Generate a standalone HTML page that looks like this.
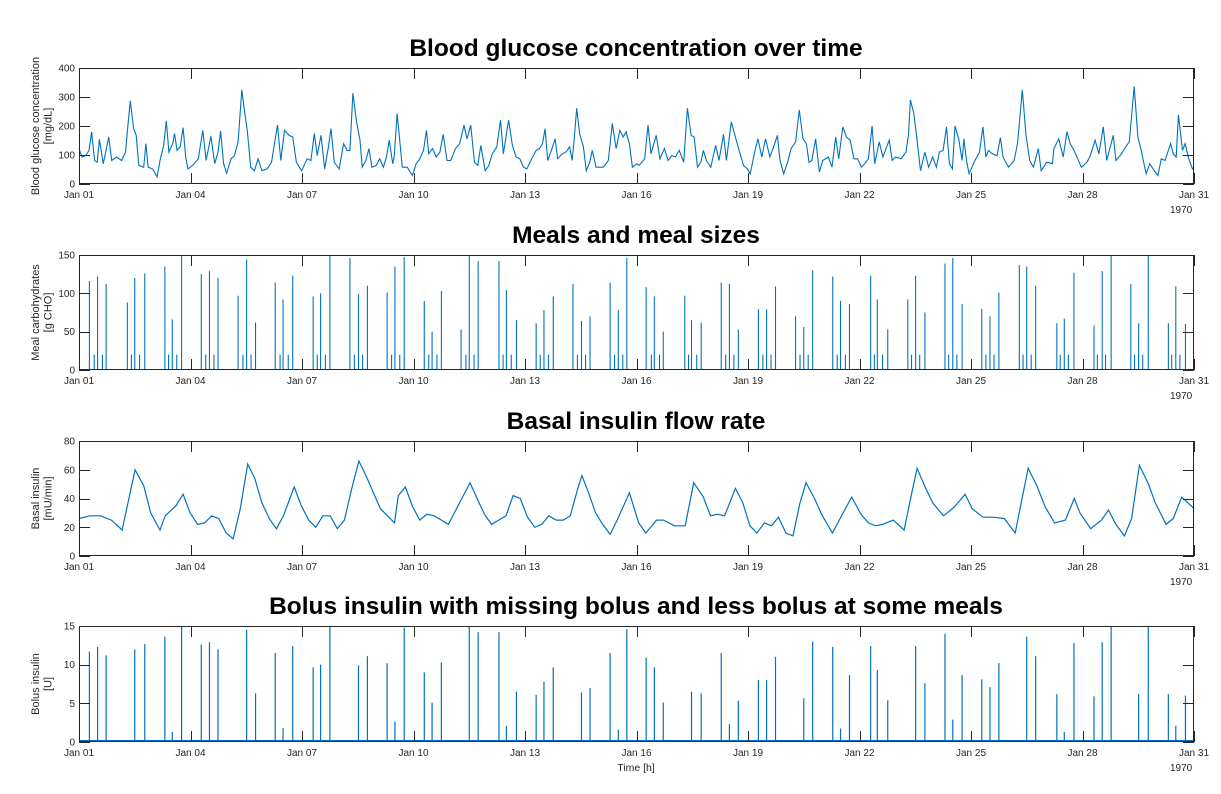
<!DOCTYPE html>
<html><head><meta charset="utf-8"><style>
html,body{margin:0;padding:0;background:#fff;}
svg{display:block;font-family:"Liberation Sans",Arial,sans-serif;}
</style></head><body>
<svg id="chart" width="1221" height="794" viewBox="0 0 1221 794" xmlns="http://www.w3.org/2000/svg"></svg>
<script>
const dayLabels=["Jan 01","Jan 04","Jan 07","Jan 10","Jan 13","Jan 16","Jan 19","Jan 22","Jan 25","Jan 28","Jan 31"];
const dayTicks=[0,3,6,9,12,15,18,21,24,27,30];
const gT=[0.00,0.08,0.18,0.27,0.34,0.42,0.49,0.55,0.65,0.71,0.80,0.88,1.01,1.15,1.25,1.32,1.38,1.47,1.54,1.61,1.74,1.80,1.86,1.98,2.10,2.18,2.28,2.35,2.42,2.52,2.57,2.64,2.72,2.80,2.87,2.93,3.06,3.21,3.33,3.42,3.55,3.65,3.74,3.81,3.89,3.97,4.09,4.18,4.28,4.38,4.45,4.53,4.62,4.72,4.82,4.92,5.06,5.18,5.26,5.34,5.43,5.53,5.65,5.75,5.85,5.99,6.14,6.24,6.33,6.41,6.51,6.61,6.71,6.78,6.87,7.00,7.12,7.21,7.29,7.37,7.46,7.56,7.62,7.72,7.80,7.88,8.00,8.09,8.19,8.27,8.35,8.44,8.48,8.56,8.63,8.70,8.83,8.97,9.07,9.17,9.27,9.35,9.41,9.51,9.61,9.71,9.80,9.90,10.00,10.13,10.24,10.36,10.44,10.54,10.64,10.73,10.81,10.93,11.03,11.12,11.24,11.34,11.42,11.56,11.66,11.76,11.86,11.96,12.05,12.18,12.30,12.39,12.47,12.54,12.61,12.71,12.81,12.88,13.00,13.10,13.20,13.27,13.32,13.39,13.47,13.57,13.65,13.74,13.81,13.91,14.01,14.11,14.24,14.35,14.45,14.55,14.64,14.72,14.81,14.89,15.01,15.07,15.22,15.31,15.39,15.53,15.63,15.75,15.85,15.95,16.05,16.15,16.27,16.37,16.47,16.55,16.64,16.73,16.80,16.88,17.00,17.13,17.22,17.34,17.42,17.55,17.66,17.76,17.88,17.98,18.06,18.20,18.27,18.37,18.47,18.59,18.69,18.79,18.86,18.96,19.08,19.16,19.28,19.38,19.48,19.57,19.64,19.72,19.82,19.92,20.01,20.16,20.26,20.36,20.44,20.55,20.65,20.75,20.85,20.95,21.05,21.14,21.24,21.34,21.41,21.53,21.63,21.80,21.88,21.97,22.12,22.25,22.32,22.37,22.46,22.54,22.64,22.76,22.86,22.97,23.07,23.15,23.25,23.34,23.42,23.50,23.57,23.67,23.76,23.81,23.88,23.95,24.08,24.23,24.32,24.40,24.47,24.57,24.70,24.79,24.86,25.01,25.16,25.25,25.38,25.48,25.58,25.68,25.81,25.89,26.04,26.19,26.23,26.36,26.48,26.58,26.67,26.77,26.87,26.97,27.12,27.21,27.34,27.44,27.56,27.65,27.83,27.90,28.05,28.16,28.26,28.39,28.49,28.58,28.71,28.81,28.93,29.03,29.12,29.22,29.37,29.44,29.52,29.58,29.69,29.76,29.86,29.96,30.00];
const gV=[122,93,98,116,180,81,75,154,70,104,162,81,93,81,110,209,287,191,168,64,58,139,58,52,25,81,133,218,110,139,174,116,128,194,93,52,64,87,185,81,165,70,110,183,70,37,87,98,145,325,255,180,58,46,87,46,52,75,139,203,81,185,168,162,75,46,87,81,174,98,168,52,128,191,75,52,139,116,116,313,220,151,58,81,122,58,64,87,58,93,151,70,93,243,151,58,58,29,70,87,116,185,104,122,93,110,171,81,81,122,139,203,156,203,75,64,133,46,64,104,128,220,104,220,133,93,87,58,52,87,116,122,139,191,81,116,156,87,104,110,128,81,151,261,174,128,46,75,116,58,58,58,81,209,122,185,162,180,139,58,70,64,87,203,104,168,87,122,81,98,93,116,75,261,168,162,58,75,116,81,58,133,81,171,81,214,162,116,64,52,35,122,156,93,156,93,128,168,81,35,81,122,145,255,156,139,75,81,156,41,81,93,58,162,87,197,162,151,87,87,58,70,87,200,70,145,93,151,81,93,87,110,174,290,243,162,46,110,58,93,58,110,116,197,70,52,200,156,81,156,81,35,75,110,197,93,116,104,98,160,93,58,81,139,325,168,81,58,122,46,75,70,122,156,93,180,139,116,87,58,75,98,151,104,197,81,168,81,104,128,145,336,162,116,35,70,46,29,87,81,139,104,93,238,116,139,87,52,58];
const mealT=[0.28,0.50,0.73,1.30,1.50,1.77,2.31,2.51,2.76,3.29,3.51,3.74,4.28,4.51,4.75,5.28,5.49,5.75,6.30,6.50,6.75,7.29,7.52,7.76,8.29,8.50,8.75,9.29,9.50,9.75,10.28,10.50,10.74,11.30,11.50,11.77,12.30,12.51,12.76,13.29,13.52,13.75,14.29,14.51,14.74,15.26,15.48,15.72,16.30,16.48,16.74,17.28,17.50,17.74,18.28,18.50,18.74,19.28,19.50,19.74,20.28,20.49,20.73,21.30,21.48,21.76,22.30,22.51,22.76,23.30,23.51,23.76,24.29,24.51,24.75,25.30,25.50,25.74,26.31,26.51,26.77,27.31,27.53,27.77,28.30,28.51,28.77,29.31,29.51,29.77];
const mealV=[116,122,112,88,120,126,135,66,150,125,129,120,97,144,62,114,92,123,96,100,150,146,99,110,101,135,147,90,50,103,53,150,142,142,104,65,61,78,96,112,64,70,114,78,146,108,96,50,97,65,62,114,112,53,79,79,109,70,56,130,122,90,86,123,92,53,92,123,75,139,146,86,80,70,101,137,135,110,61,67,127,58,129,150,112,61,150,61,109,60];
const snackT=[0.41,0.63,1.41,1.63,2.41,2.63,3.41,3.63,4.41,4.63,5.41,5.63,6.41,6.63,7.41,7.63,8.41,8.63,9.41,9.63,10.41,10.63,11.41,11.63,12.41,12.63,13.41,13.63,14.41,14.63,15.40,15.62,16.40,16.62,17.40,17.62,18.40,18.62,19.40,19.62,20.40,20.62,21.40,21.62,22.40,22.62,23.40,23.62,24.40,24.62,25.40,25.62,26.40,26.62,27.40,27.62,28.40,28.62,29.40,29.62];
const snackV=Array.from(snackT,()=>20);
const basalT=[0,0.29,0.58,0.87,1.00,1.16,1.35,1.51,1.74,1.93,2.18,2.32,2.61,2.80,2.99,3.19,3.38,3.57,3.76,3.96,4.15,4.34,4.54,4.73,4.92,5.12,5.31,5.50,5.79,5.98,6.18,6.37,6.56,6.76,6.95,7.14,7.34,7.53,7.72,7.92,8.11,8.30,8.49,8.59,8.78,8.98,9.17,9.36,9.56,9.75,9.94,10.14,10.52,10.71,10.91,11.10,11.29,11.49,11.68,11.87,12.07,12.26,12.45,12.64,12.84,13.03,13.22,13.42,13.53,13.71,13.90,14.09,14.29,14.48,14.81,15.06,15.25,15.54,15.73,16.02,16.31,16.54,16.80,16.99,17.18,17.37,17.66,17.86,18.05,18.24,18.44,18.63,18.82,19.02,19.21,19.40,19.56,19.79,19.98,20.27,20.56,20.79,21.04,21.24,21.43,21.62,21.91,22.20,22.39,22.55,22.78,22.97,23.26,23.55,23.84,24.03,24.32,24.61,24.90,25.19,25.35,25.54,25.77,26.00,26.25,26.54,26.78,26.93,27.22,27.51,27.70,27.90,28.13,28.32,28.53,28.76,28.96,29.25,29.44,29.67,29.92,30.00];
const basalV=[26,28,28,25,22,18,41,60,49,30,18,28,35,43,30,22,23,28,26,16,12,33,64,54,37,26,19,28,48,35,25,20,28,28,19,25,47,66,56,44,33,28,23,42,48,34,25,29,28,25,22,32,51,40,29,22,25,28,42,40,27,20,22,28,25,25,28,47,56,44,30,22,15,25,44,23,16,25,25,21,21,51,41,28,29,28,47,37,21,16,23,21,27,16,14,37,51,40,29,16,30,41,29,23,21,22,25,18,42,61,47,37,28,34,43,33,27,27,26,16,37,61,49,34,23,25,40,30,19,25,32,22,14,26,63,51,37,22,26,41,35,33];
const bolusV=[11.7,12.3,11.2,0,12.0,12.65,13.6,1.3,15,12.6,12.9,12.0,0,14.5,6.3,11.5,1.8,12.4,9.65,10.0,15,0,9.9,11.1,10.2,2.65,14.8,9.0,5.1,10.3,0,15,14.2,14.2,2.1,6.5,6.1,7.8,9.65,0,6.4,7.0,11.5,1.6,14.6,10.9,9.65,5.1,0,6.5,6.3,11.5,2.3,5.35,8.0,8.0,11.0,0,5.65,13.0,12.3,1.75,8.65,12.4,9.3,5.4,0,12.4,7.6,14.0,2.9,8.65,8.1,7.1,10.2,0,13.6,11.1,6.2,1.3,12.8,5.9,12.9,15,0,6.2,15,6.2,2.1,6.0];

const NS="http://www.w3.org/2000/svg";
const svg=document.getElementById('chart');
const X0=79,X1=1194;
const xS=d=>X0+(d/30)*(X1-X0);
const BLUE="#0072BD";
function el(tag,attrs,parent){const e=document.createElementNS(NS,tag);for(const k in attrs)e.setAttribute(k,attrs[k]);(parent||svg).appendChild(e);return e;}
function txt(s,attrs,parent){const e=el('text',attrs,parent);e.textContent=s;return e;}

const panels=[
 {top:68,bot:184,max:400,ticks:[0,100,200,300,400],title:"Blood glucose concentration over time",yl:["Blood glucose concentration","[mg/dL]"],name:"glucose"},
 {top:255,bot:370,max:150,ticks:[0,50,100,150],title:"Meals and meal sizes",yl:["Meal carbohydrates","[g CHO]"],name:"meals"},
 {top:441,bot:556,max:80,ticks:[0,20,40,60,80],title:"Basal insulin flow rate",yl:["Basal insulin","[mU/min]"],name:"basal"},
 {top:626,bot:742,max:15,ticks:[0,5,10,15],title:"Bolus insulin with missing bolus and less bolus at some meals",yl:["Bolus insulin","[U]"],name:"bolus"}
];

panels.forEach((p,i)=>{
  const g=el('g',{});
  
  
  const yS=v=>p.bot-(v/p.max)*(p.bot-p.top);
  p.yS=yS;
  const t=txt(p.title,{x:636,y:p.top-12,'text-anchor':'middle','font-size':'24.5','font-weight':'bold',fill:'#000'},g);
  
  
  const cy=(p.top+p.bot)/2;
  const yl=txt('',{transform:`translate(39,${cy}) rotate(-90)`,'text-anchor':'middle','font-size':'11','fill':'#262626'},g);
  
  
  const ts1=el('tspan',{x:0,y:0},yl);ts1.textContent=p.yl[0];
  const ts2=el('tspan',{x:0,y:12.5},yl);ts2.textContent=p.yl[1];
  const dg=el('g',{},g);
  
  
  p.dg=dg;
  const ag=el('g',{stroke:'#262626','stroke-width':'1',fill:'none'},g);
  
  
  el('rect',{x:X0+0.5,y:p.top+0.5,width:X1-X0-1,height:p.bot-p.top-1},ag);
  dayTicks.forEach((d,k)=>{
    const x=Math.round(xS(d))+0.5;
    el('line',{x1:x,y1:p.bot,x2:x,y2:p.bot-11},ag);
    el('line',{x1:x,y1:p.top,x2:x,y2:p.top+11},ag);
    const lab=txt(dayLabels[k],{x:xS(d),y:p.bot+14,'text-anchor':'middle','font-size':'10',fill:'#262626',stroke:'none'},g);
    
    
  });
  p.ticks.forEach(v=>{
    const y=Math.round(yS(v))+0.5;
    el('line',{x1:X0,y1:y,x2:X0+11,y2:y},ag);
    el('line',{x1:X1,y1:y,x2:X1-11,y2:y},ag);
    const lab=txt(String(v),{x:X0-4,y:yS(v)+3.5,'text-anchor':'end','font-size':'10',fill:'#262626'},g);
    
    
  });
  const yr=txt('1970',{x:1170,y:p.bot+29,'font-size':'10',fill:'#262626'},g);
  
  
});

{const p=panels[0];const pts=gT.map((d,k)=>xS(d).toFixed(1)+','+p.yS(gV[k]).toFixed(1)).join(' ');
 const l=el('polyline',{points:pts,fill:'none',stroke:BLUE,'stroke-width':'1.1'},p.dg);
 
 }
{const p=panels[1];
 mealT.forEach((d,k)=>{const x=xS(d);const s=el('line',{x1:x,x2:x,y1:p.bot,y2:p.yS(Math.min(mealV[k],150)),stroke:BLUE,'stroke-width':'1.1'},p.dg);
  
  });
 snackT.forEach((d,k)=>{const x=xS(d);const s=el('line',{x1:x,x2:x,y1:p.bot,y2:p.yS(snackV[k]),stroke:BLUE,'stroke-width':'1.1'},p.dg);
  
  });}
{const p=panels[2];const pts=basalT.map((d,k)=>xS(d).toFixed(1)+','+p.yS(basalV[k]).toFixed(1)).join(' ');
 const l=el('polyline',{points:pts,fill:'none',stroke:BLUE,'stroke-width':'1.2'},p.dg);
 
 }
{const p=panels[3];
 mealT.forEach((d,k)=>{if(!bolusV[k])return;const x=xS(d);const s=el('line',{x1:x,x2:x,y1:p.bot,y2:p.yS(Math.min(bolusV[k],15)),stroke:BLUE,'stroke-width':'1.2'},p.dg);
  
  });
 const b=el('line',{x1:X0,x2:X1,y1:p.bot-1,y2:p.bot-1,stroke:BLUE,'stroke-width':'2'},p.dg);
 
 }
const xt=txt('Time [h]',{x:636,y:771,'text-anchor':'middle','font-size':'10.5',fill:'#262626'});


</script>
</body></html>
